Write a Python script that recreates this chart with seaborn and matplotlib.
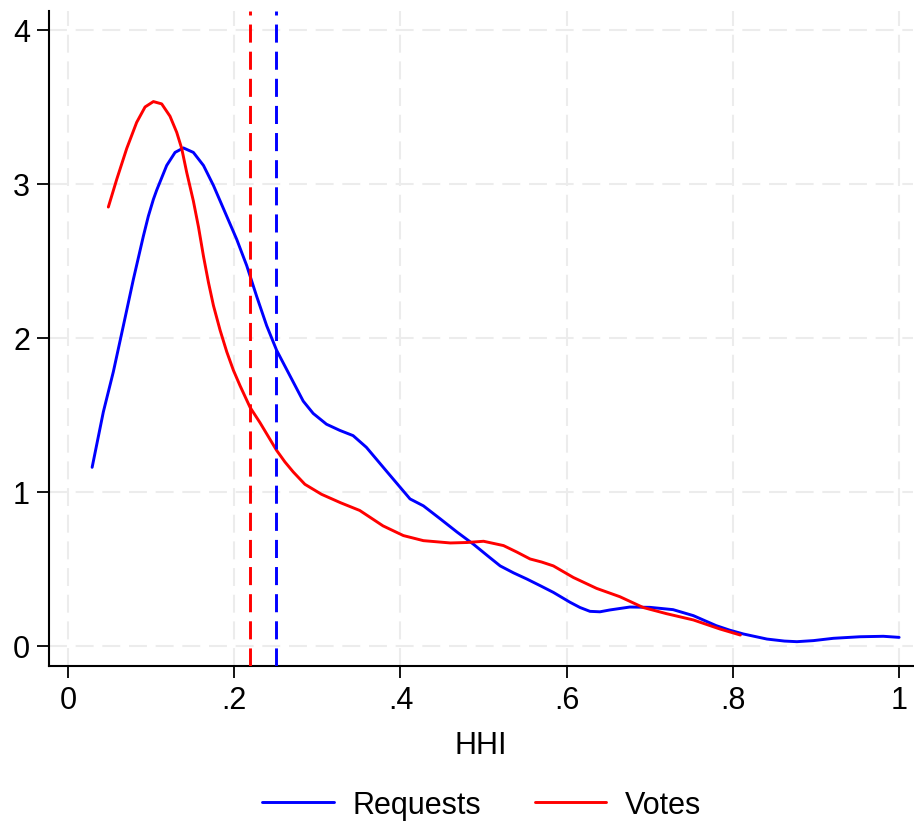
import matplotlib
matplotlib.use("Agg")
import matplotlib.pyplot as plt
import seaborn as sns
import pandas as pd

# Kernel density estimates of HHI, read at selected points
requests_x = [0.029, 0.0425, 0.0545, 0.0666, 0.0786, 0.0906, 0.0966, 0.1027, 0.1067, 0.1187, 0.1288,
              0.1388, 0.1508, 0.163, 0.175, 0.183, 0.195, 0.203, 0.215, 0.227, 0.239,
              0.251, 0.267, 0.283, 0.295, 0.311, 0.327, 0.343, 0.359, 0.384, 0.4115,
              0.4276, 0.448, 0.468, 0.488, 0.505, 0.52, 0.536, 0.552, 0.568, 0.584,
              0.604, 0.616, 0.628, 0.640, 0.652, 0.676, 0.700, 0.728, 0.7525, 0.766,
              0.78, 0.796, 0.8126, 0.841, 0.862, 0.877, 0.897, 0.921, 0.953, 0.981, 1.0]
requests_y = [1.16, 1.52, 1.78, 2.08, 2.38, 2.66, 2.79, 2.90, 2.96, 3.12, 3.205,
              3.234, 3.205, 3.12, 2.99, 2.89, 2.74, 2.64, 2.47, 2.27, 2.08,
              1.92, 1.755, 1.59, 1.51, 1.44, 1.40, 1.366, 1.29, 1.13, 0.955,
              0.91, 0.825, 0.74, 0.66, 0.585, 0.52, 0.475, 0.435, 0.392, 0.348,
              0.284, 0.250, 0.225, 0.222, 0.234, 0.253, 0.251, 0.236, 0.197, 0.165,
              0.132, 0.103, 0.078, 0.045, 0.032, 0.028, 0.035, 0.05, 0.06, 0.063, 0.056]

votes_x = [0.0485, 0.0586, 0.0706, 0.0826, 0.0927, 0.1027, 0.1127, 0.1227, 0.1308, 0.1368,
           0.1428, 0.1508, 0.157, 0.163, 0.169, 0.175, 0.183, 0.191, 0.199, 0.207,
           0.219, 0.231, 0.241, 0.251, 0.261, 0.271, 0.285, 0.305, 0.328, 0.351,
           0.365, 0.379, 0.4035, 0.4276, 0.46, 0.480, 0.50, 0.524, 0.540, 0.556,
           0.570, 0.584, 0.608, 0.636, 0.664, 0.692, 0.720, 0.7525, 0.7846, 0.809]
votes_y = [2.85, 3.03, 3.23, 3.40, 3.50, 3.535, 3.52, 3.44, 3.335, 3.23,
           3.075, 2.89, 2.72, 2.53, 2.36, 2.21, 2.05, 1.91, 1.79, 1.69,
           1.55, 1.45, 1.36, 1.27, 1.195, 1.13, 1.05, 0.985, 0.93, 0.88,
           0.83, 0.78, 0.717, 0.684, 0.669, 0.672, 0.68, 0.652, 0.61, 0.565,
           0.545, 0.52, 0.445, 0.374, 0.32, 0.25, 0.21, 0.169, 0.11, 0.071]

# Reference lines (dashed) for each group
ref_lines = {"Votes": 0.219, "Requests": 0.25}

x_ticks = [0, 0.2, 0.4, 0.6, 0.8, 1.0]
x_tick_labels = ["0", ".2", ".4", ".6", ".8", "1"]
y_ticks = [0, 1, 2, 3, 4]

colors = {"Requests": "#0000FF", "Votes": "#FF0000"}

df = pd.concat([
    pd.DataFrame({"HHI": requests_x, "density": requests_y, "group": "Requests"}),
    pd.DataFrame({"HHI": votes_x, "density": votes_y, "group": "Votes"}),
], ignore_index=True)

sns.set_theme(style="white")
plt.rcParams["font.family"] = ["Liberation Sans", "DejaVu Sans"]
plt.rcParams["text.color"] = "black"

FS = 22
LW = 2.1

fig = plt.figure(figsize=(9.14, 8.29), dpi=100)
ax = fig.add_axes([0.0536, 0.1954, 0.9454, 0.7901])

sns.lineplot(data=df, x="HHI", y="density", hue="group", palette=colors,
             estimator=None, sort=False, linewidth=LW, ax=ax, legend=False)

for grp, xv in ref_lines.items():
    ax.axvline(xv, color=colors[grp], linewidth=LW, dashes=(6.2, 3.1), zorder=3)

ax.set_xlim(-0.0229, 1.0168)
ax.set_ylim(-0.13, 4.123)
ax.set_xticks(x_ticks)
ax.set_xticklabels(x_tick_labels)
ax.set_yticks(y_ticks)

ax.grid(True, color="#ececec", linewidth=1.5, dashes=(8.6, 4.2))
ax.set_axisbelow(True)

for side in ["top", "right"]:
    ax.spines[side].set_visible(False)
for side in ["left", "bottom"]:
    ax.spines[side].set_color("black")
    ax.spines[side].set_linewidth(1.5)

ax.tick_params(axis="both", direction="out", length=8.6, width=1.3, color="black",
               labelsize=FS, labelcolor="black", bottom=True, left=True, pad=5)

ax.set_xlabel("HHI", fontsize=FS, color="black", labelpad=11)
ax.set_ylabel("")

handles = [plt.Line2D([], [], color=colors[g], linewidth=LW) for g in ["Requests", "Votes"]]
leg = fig.legend(handles, ["Requests", "Votes"], loc="center", bbox_to_anchor=(0.527, 0.028),
                 ncol=2, frameon=False, fontsize=FS, handlelength=2.35, handletextpad=0.6,
                 columnspacing=1.75)
for t in leg.get_texts():
    t.set_color("black")

fig.savefig("out.png", dpi=100)
